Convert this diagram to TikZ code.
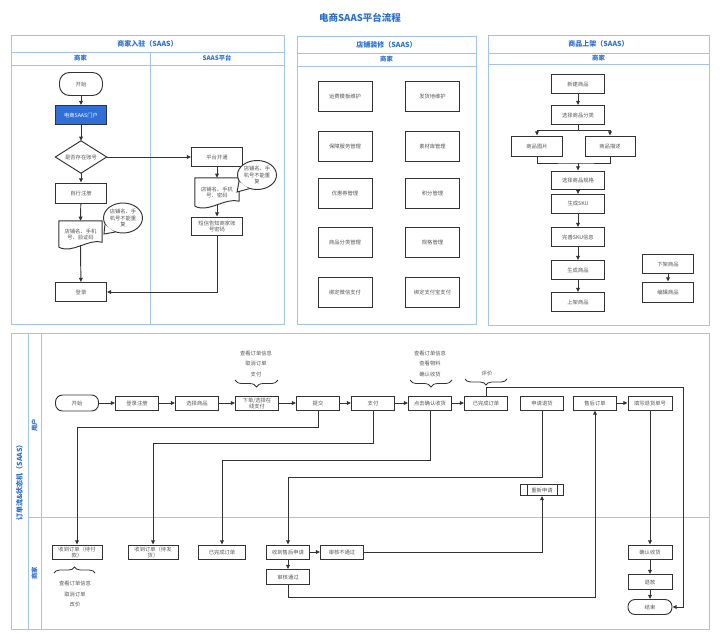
\documentclass[tikz,border=0pt]{standalone}
\usepackage{fontspec}
\setmainfont{Noto Sans CJK SC}
\usetikzlibrary{arrows.meta,shapes.geometric,decorations.pathreplacing,calc}
\definecolor{lc}{HTML}{333333}
\definecolor{tc}{HTML}{555555}
\definecolor{pb}{HTML}{A3C2EC}
\definecolor{hb}{HTML}{2C6FD1}
\definecolor{fb}{HTML}{2F6FD6}
\begin{document}
\begin{tikzpicture}[x=1pt,y=-1pt,
 bx/.style={draw=lc,line width=0.95pt,fill=white,inner sep=0pt,align=center,text=tc,font=\fontsize{5.3}{6}\selectfont},
 sz/.style 2 args={minimum width=#1pt,minimum height=#2pt},
 arr/.style={draw=lc,line width=0.95pt,-{Triangle[length=4.2pt,width=3.8pt]}},
 ln/.style={draw=lc,line width=0.95pt},
 panel/.style={draw=pb,line width=0.9pt},
 ttl/.style={text=hb,font=\bfseries\fontsize{7}{8}\selectfont},
 sub/.style={text=hb,font=\bfseries\fontsize{6.3}{7}\selectfont},
 note/.style={text=tc,align=center,font=\fontsize{5.3}{10.5}\selectfont},
 term/.style={bx,rounded corners=7pt},
 docn/.style={inner sep=0pt,align=center,text=tc,font=\fontsize{5.3}{6.5}\selectfont},
 call/.style={ellipse,draw=lc,line width=0.95pt,fill=white,inner sep=0pt,align=center,text=tc,font=\fontsize{5.3}{6.3}\selectfont},
 brc/.style={draw=lc,line width=0.8pt,decorate}
]
\useasboundingbox[fill=white] (0,0) rectangle (720,640);

\node[text=hb,font=\bfseries\fontsize{9.5}{11}\selectfont] (title) at (360,18) {电商SAAS平台流程};

% ---------- Panel 1 ----------
\draw[panel] (11,35) rectangle (284,324);
\draw[panel] (11,52) -- (284,52);
\draw[panel] (11,65) -- (284,65);
\draw[panel] (150,52) -- (150,324);
\node[ttl] (h1) at (147.5,43.5) {商家入驻（SAAS）};
\node[sub] (h1a) at (80.5,58.5) {商家};
\node[sub] (h1b) at (217,58.5) {SAAS平台};

\node[bx,sz={43}{23},rounded corners=10pt] (p1start) at (81,84) {开始};
\node[bx,sz={51}{19},fill=fb,text=white] (p1portal) at (81,115) {电商SAAS门户};
\node[inner sep=0pt,sz={51}{32},text=tc,font=\fontsize{5.3}{6}\selectfont] (p1dia) at (81,157) {是否存在账号};
\draw[ln] (p1dia.north) -- (p1dia.east) -- (p1dia.south) -- (p1dia.west) -- cycle;
\node[bx,sz={51}{20}] (p1reg) at (81,193) {自行注册};
\node[docn,sz={43}{27}] (p1doc) at (80.5,234.5) {店铺名、手机\\号、验证码};
\draw[ln] ([yshift=1pt]p1doc.south west) -- (p1doc.north west) -- (p1doc.north east) -- ([yshift=6pt]p1doc.south east)
  .. controls ([shift={(-14pt,10pt)}]p1doc.south east) and ([shift={(14pt,-6pt)}]p1doc.south west) .. ([yshift=1pt]p1doc.south west);
\node[bx,sz={51}{19}] (p1login) at (81,292) {登录};
\node[call,sz={39}{30}] (p1call) at (123,218) {店铺名、手\\机号不能重\\复};
\coordinate (t1) at (104,234);
\fill[white] (p1call.200) -- (t1) -- (p1call.240) -- cycle;
\draw[ln] (p1call.200) -- (t1) -- (p1call.240);

\node[bx,sz={51}{19}] (p1open) at (217,157) {平台开通};
\node[docn,sz={44}{29}] (p1doc2) at (217,192.5) {店铺名、手机\\号、密码};
\draw[ln] ([yshift=1pt]p1doc2.south west) -- (p1doc2.north west) -- (p1doc2.north east) -- ([yshift=6pt]p1doc2.south east)
  .. controls ([shift={(-14pt,10pt)}]p1doc2.south east) and ([shift={(14pt,-6pt)}]p1doc2.south west) .. ([yshift=1pt]p1doc2.south west);
\node[bx,sz={51}{18}] (p1sms) at (217,226) {短信告知商家账\\号密码};
\node[call,sz={39}{29}] (p1call2) at (257,175) {店铺名、手\\机号不能重\\复};
\coordinate (t2) at (237,192);
\fill[white] (p1call2.200) -- (t2) -- (p1call2.240) -- cycle;
\draw[ln] (p1call2.200) -- (t2) -- (p1call2.240);

\draw[arr] (p1start) -- (p1portal);
\draw[arr] (p1portal) -- (p1dia.north);
\draw[arr] (p1dia.south) -- (p1reg);
\draw[arr] (p1reg) -- (p1doc.north);
\draw[arr] ([yshift=3pt]p1doc.south) -- (p1login);
\draw[arr] (p1dia.east) -- (p1open);
\draw[arr] (p1open) -- (p1doc2.north);
\draw[arr] ([yshift=3pt]p1doc2.south) -- (p1sms);
\draw[arr] (p1sms.south) |- (p1login.east);

% ---------- Panel 2 ----------
\draw[panel] (297,36) rectangle (476,324);
\draw[panel] (297,53) -- (476,53);
\draw[panel] (297,66) -- (476,66);
\node[ttl] (h2) at (386.5,44.5) {店铺装修（SAAS）};
\node[sub] (h2a) at (386.5,59.5) {商家};
\node[bx,sz={54}{30}] (s1) at (345,96) {运费模板维护};
\node[bx,sz={54}{30}] (s2) at (432.5,96) {发货地维护};
\node[bx,sz={54}{30}] (s3) at (345,146) {保障服务管理};
\node[bx,sz={54}{30}] (s4) at (432.5,146) {素材库管理};
\node[bx,sz={54}{30}] (s5) at (345,193) {优惠券管理};
\node[bx,sz={54}{30}] (s6) at (432.5,193) {积分管理};
\node[bx,sz={54}{30}] (s7) at (345,242) {商品分类管理};
\node[bx,sz={54}{30}] (s8) at (432.5,242) {规格管理};
\node[bx,sz={54}{30}] (s9) at (345,292) {绑定微信支付};
\node[bx,sz={54}{30}] (s10) at (432.5,292) {绑定支付宝支付};

% ---------- Panel 3 ----------
\draw[panel] (488,35) rectangle (709,325);
\draw[panel] (488,53) -- (709,53);
\draw[panel] (488,64) -- (709,64);
\node[ttl] (h3) at (598.5,44) {商品上架（SAAS）};
\node[sub] (h3a) at (598.5,58.5) {商家};
\node[bx,sz={53}{19}] (g1) at (578,84) {新建商品};
\node[bx,sz={53}{19}] (g2) at (578,115) {选择商品分类};
\node[bx,sz={51}{20}] (gimg) at (537,146) {商品图片};
\node[bx,sz={50}{20}] (gdesc) at (610,146) {商品描述};
\node[bx,sz={53}{18}] (g3) at (578,180) {选择商品规格};
\node[bx,sz={53}{19}] (g4) at (578,204) {生成SKU};
\node[bx,sz={53}{19}] (g5) at (578,237) {完善SKU信息};
\node[bx,sz={53}{19}] (g6) at (578,270) {生成商品};
\node[bx,sz={53}{19}] (g7) at (578,302) {上架商品};
\node[bx,sz={51}{19}] (g8) at (668,264) {下架商品};
\node[bx,sz={51}{20}] (g9) at (668,292) {编辑商品};
\coordinate (c1) at (578,130);
\coordinate (c2) at (578,163);
\draw[arr] (g1) -- (g2);
\draw[ln] (g2.south) -- (c1);
\draw[arr] (c1) -| (gimg.north);
\draw[arr] (c1) -| (gdesc.north);
\draw[ln] (gimg.south) |- (c2) -| (gdesc.south);
\draw[arr] (c2) -- (g3.north);
\draw[arr] (g3) -- (g4);
\draw[arr] (g4) -- (g5);
\draw[arr] (g5) -- (g6);
\draw[arr] (g6) -- (g7);
\draw[arr] (g8) -- (g9);

% ---------- Bottom panel ----------
\draw[panel] (11,333) rectangle (709,629);
\draw[panel] (28,333) -- (28,629);
\draw[panel] (41,333) -- (41,629);
\draw[panel] (28,517) -- (709,517);
\node[sub,rotate=90,font=\bfseries\fontsize{7}{8}\selectfont] (lane) at (19.5,481) {订单流\&状态机（SAAS）};
\node[sub,rotate=90] (laneu) at (34.5,425) {用户};
\node[sub,rotate=90] (lanem) at (34.5,573) {商家};

% user row
\node[term,sz={43}{16}] (ustart) at (77,403) {开始};
\node[bx,sz={43}{14}] (ulogin) at (137,403) {登录注册};
\node[bx,sz={43}{14}] (usel) at (197,403) {选择商品};
\node[bx,sz={43}{14}] (uorder) at (257,403) {下单/选择在\\线支付};
\node[bx,sz={43}{14}] (usubmit) at (318,403) {提交};
\node[bx,sz={43}{14}] (upay) at (373,403) {支付};
\node[bx,sz={43}{14}] (uconfirm) at (430,403) {点击确认收货};
\node[bx,sz={43}{14}] (udone) at (486,403) {已完成订单};
\node[bx,sz={43}{14}] (uret) at (542,403) {申请退货};
\node[bx,sz={43}{14}] (uafter) at (595,403) {售后订单};
\node[bx,sz={44}{14}] (ufill) at (650,403) {填写退货单号};

\draw[arr] (ustart) -- (ulogin);
\draw[arr] (ulogin) -- (usel);
\draw[arr] (usel) -- (uorder);
\draw[arr] (uorder) -- (usubmit);
\draw[arr] (usubmit) -- (upay);
\draw[arr] (upay) -- (uconfirm);
\draw[arr] (uconfirm) -- (udone);
\draw[arr] (uafter) -- (ufill);

\node[note] (n1) at (256,363.5) {查看订单信息\\取消订单\\支付};
\node[note] (n2) at (430,363.5) {查看订单信息\\查看物料\\确认收货};
\node[note] (n3) at (487,373) {评价};
\draw[brc,decoration={brace,amplitude=7pt,mirror}] (235,380) -- (278,380);
\draw[brc,decoration={brace,amplitude=7pt,mirror}] (410,380) -- (452,380);
\draw[brc,decoration={brace,amplitude=6pt,mirror}] (465,379) -- (507,379);

% merchant row
\node[bx,sz={50}{14}] (mpend) at (77,552) {收到订单（待付\\款）};
\node[bx,sz={50}{14}] (mship) at (153,552) {收到订单（待发\\货）};
\node[bx,sz={47}{14}] (mdone) at (222,552) {已完成订单};
\node[bx,sz={43}{14}] (mrecv) at (288,552) {收到售后申请};
\node[bx,sz={43}{14}] (mrej) at (342,552) {审核不通过};
\node[bx,sz={43}{15}] (mpass) at (288,577) {审核通过};
\node[bx,sz={43}{11}] (mreap) at (542,490) {重新申请};
\draw[ln] ([xshift=7pt]mreap.north west) -- ([xshift=7pt]mreap.south west);
\draw[ln] ([xshift=-7pt]mreap.north east) -- ([xshift=-7pt]mreap.south east);
\node[bx,sz={44}{14}] (mconf) at (650,552) {确认收货};
\node[bx,sz={44}{15}] (mref) at (650,582) {退款};
\node[term,sz={44}{15}] (mend) at (650,607) {结束};

\node[note] (n4) at (75,594) {查看订单信息\\取消订单\\改价};
\draw[brc,decoration={brace,amplitude=6pt}] (54,573) -- (95,573);

\draw[arr] (usubmit.south) -- ++(0,17) -| (mpend.north);
\draw[arr] (upay.south) -- ++(0,33) -| (mship.north);
\draw[arr] (uconfirm.south) -- ++(0,50) -| (mdone.north);
\draw[arr] (uret.south) -- ++(0,67) -| (mrecv.north);
\draw[arr] (mrecv) -- (mrej);
\draw[arr] (mrecv) -- (mpass);
\draw[arr] (mrej.east) -| (mreap.south);
\draw[arr] (mpass.south) -- ++(0,12.5) -| (uafter.south);
\draw[arr] (ufill) -- (mconf);
\draw[arr] (mconf) -- (mref);
\draw[arr] (mref) -- (mend);
\coordinate (k1) at (683,387);
\draw[arr] (udone.north) |- (k1) |- (mend.east);
\end{tikzpicture}
\end{document}
